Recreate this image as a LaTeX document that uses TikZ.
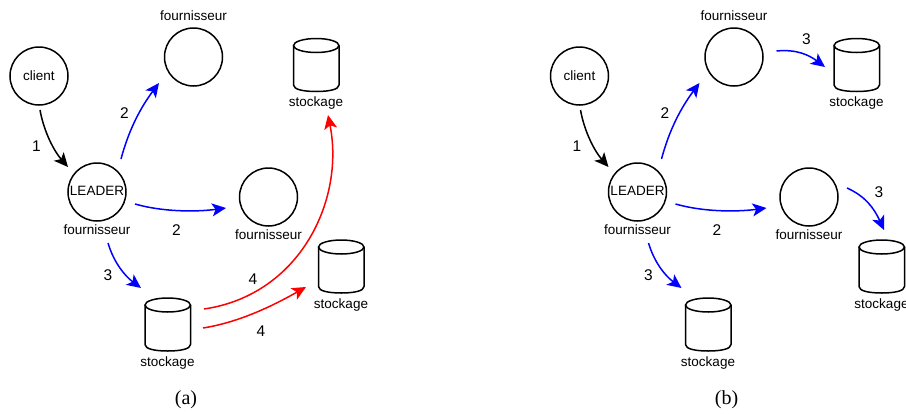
\documentclass[tikz,border=0pt]{standalone}
\usepackage{fontspec}
\setmainfont{Liberation Sans}
\newfontfamily\capfont{Liberation Serif}
\usetikzlibrary{arrows.meta}
\definecolor{pureblue}{RGB}{0,0,255}
\definecolor{purered}{RGB}{255,0,0}
\tikzset{
  x=1pt,y=-1pt,
  srv/.style={circle,draw=black,line width=1.5pt,minimum size=58pt,inner sep=0pt,outer sep=0pt,font=\fontsize{13.5}{16}\selectfont},
  disk/.style={rectangle,minimum width=45.5pt,minimum height=53pt,inner sep=0pt,outer sep=0pt},
  diskline/.style={draw=black,line width=1.5pt},
  lbl/.style={inner sep=0pt,font=\fontsize{13.5}{16}\selectfont},
  numlbl/.style={inner sep=0pt,font=\fontsize{15.5}{18}\selectfont},
  figcap/.style={inner sep=0pt,font=\capfont\fontsize{20}{24}\selectfont},
  link/.style={line width=1.5pt,-{Stealth[length=14pt,width=13pt,inset=3.5pt]}},
  blk/.style={link,color=black},
  blu/.style={link,color=pureblue},
  rd/.style={link,color=purered},
}
\newcommand{\diskbody}[3]{
  \node[disk] (#1) at (#2,#3) {};
  \begin{scope}[shift={(#2,#3)}]
    \draw[diskline] (0,-19.5) ellipse [x radius=22.75,y radius=7];
    \draw[diskline] (-22.75,-19.5) -- (-22.75,20) .. controls (-22.75,24.5) and (-12.6,26.5) .. (0,26.5) .. controls (12.6,26.5) and (22.75,24.5) .. (22.75,20) -- (22.75,-19.5);
  \end{scope}
}
\newcommand{\basepart}{
  \node[srv] (client) at (39,76) {\raisebox{-0.5pt}{client}};
  \node[srv] (f1) at (193.5,57) {};
  \node[lbl] (f1l) at (193.5,15.5) {fournisseur};
  \node[srv] (leader) at (97,192) {\raisebox{2pt}{LEADER}};
  \node[lbl] (leaderl) at (97,230) {fournisseur};
  \node[srv] (f2) at (268.5,197) {};
  \node[lbl] (f2l) at (268.5,235) {fournisseur};
  \diskbody{c1}{316.25}{65}
  \node[lbl] (c1l) at (316,103) {stockage};
  \diskbody{c2}{341.25}{266.5}
  \node[lbl] (c2l) at (341,305) {stockage};
  \diskbody{c3}{167.75}{324.5}
  \node[lbl] (c3l) at (167.5,363) {stockage};
  \node[numlbl] (n1) at (36.5,146) {1};
  \node[numlbl] (n2) at (124.5,113) {2};
  \node[numlbl] (n3) at (176.5,230) {2};
  \node[numlbl] (n4) at (108,275) {3};
}
\begin{document}
\begin{tikzpicture}
\useasboundingbox (0,0) rectangle (906,413);
\begin{scope}[name prefix=a-]
  \basepart
  \draw[blk] ([shift={(1,34)}]a-client.center) .. controls +(4,22) and +(-14,-16) .. ([shift={(-29,-25)}]a-leader.center);
  \draw[blu] ([shift={(24,-33)}]a-leader.center) .. controls +(8,-30) and +(-18,24) .. ([shift={(-34.5,26)}]a-f1.center);
  \draw[blu] ([shift={(38,12)}]a-leader.center) .. controls +(28,8) and +(-30,4) .. ([shift={(-42.5,11)}]a-f2.center);
  \draw[blu] ([shift={(11,51)}]a-leader.center) .. controls +(6,20) and +(-16,-12) .. ([shift={(-26.75,-36.5)}]a-c3.center);
  \draw[rd] ([shift={(36.25,-15.5)}]a-c3.center) .. controls +(96,-14) and +(17,85) .. ([shift={(11.75,50)}]a-c1.center);
  \draw[rd] ([shift={(35.25,3.5)}]a-c3.center) .. controls +(38,-6) and +(-30,17) .. ([shift={(-35.25,20.5)}]a-c2.center);
  \node[numlbl] (n5) at (253,279) {4};
  \node[numlbl] (n6) at (261,331) {4};
  \node[figcap] (capa) at (186,399.5) {(a)};
\end{scope}
\begin{scope}[shift={(540.5,0)},name prefix=b-]
  \basepart
  \draw[blk] ([shift={(1,34)}]b-client.center) .. controls +(4,22) and +(-14,-16) .. ([shift={(-29,-25)}]b-leader.center);
  \draw[blu] ([shift={(24,-33)}]b-leader.center) .. controls +(8,-30) and +(-18,24) .. ([shift={(-34.5,26)}]b-f1.center);
  \draw[blu] ([shift={(38,12)}]b-leader.center) .. controls +(28,8) and +(-30,4) .. ([shift={(-42.5,11)}]b-f2.center);
  \draw[blu] ([shift={(11,51)}]b-leader.center) .. controls +(6,20) and +(-16,-12) .. ([shift={(-26.75,-36.5)}]b-c3.center);
  \draw[blu] ([shift={(42.5,-6)}]b-f1.center) .. controls +(20,-2) and +(-16,-12) .. ([shift={(-31.75,2)}]b-c1.center);
  \draw[blu] ([shift={(38,-9)}]b-f2.center) .. controls +(18,8) and +(-10,-22) .. ([shift={(2.25,-36.5)}]b-c2.center);
  \node[numlbl] (n5) at (266,39.5) {3};
  \node[numlbl] (n6) at (338.5,192) {3};
  \node[figcap] (capb) at (186,399.5) {(b)};
\end{scope}
\end{tikzpicture}
\end{document}
